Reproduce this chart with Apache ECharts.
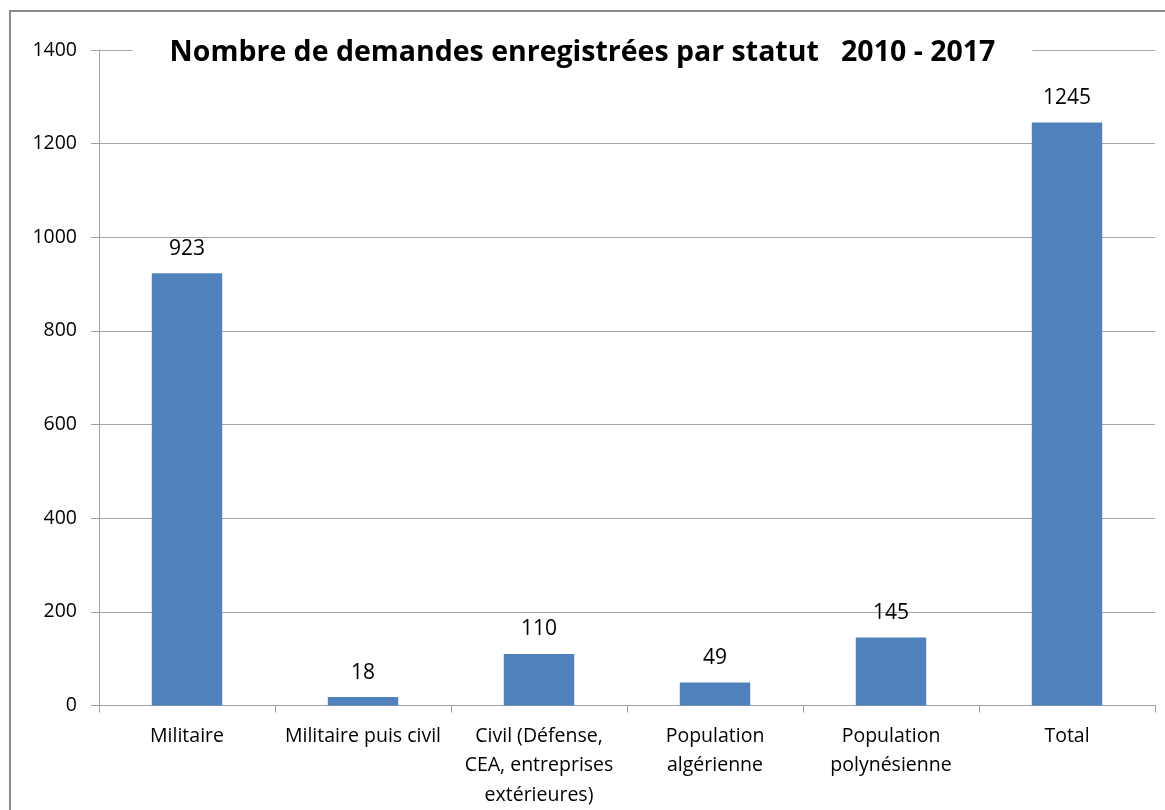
<!DOCTYPE html>
<html>
<head>
<meta charset="utf-8">
<script src="https://cdn.jsdelivr.net/npm/echarts@6/dist/echarts.min.js"></script>
<style>
  html, body { margin: 0; padding: 0; background: #fff; }
  #chart { width: 1165px; height: 810px; }
</style>
</head>
<body>
<div id="chart"></div>
<script>
// data
var categories = ['Militaire', 'Militaire puis civil', 'Civil (Défense,\nCEA, entreprises\nextérieures)', 'Population\nalgérienne', 'Population\npolynésienne', 'Total'];
var values = [923, 18, 110, 49, 145, 1245];
var yTicks = [0, 200, 400, 600, 800, 1000, 1200, 1400];

var chart = echarts.init(document.getElementById('chart'));
var font = "'Open Sans', sans-serif";

var option = {
  animation: false,
  graphic: [{
    type: 'rect',
    shape: { x: 10, y: 11, width: 1200, height: 900 },
    style: { fill: 'none', stroke: '#8a8a8a', lineWidth: 2 },
    z: 0
  }],
  title: {
    text: 'Nombre de demandes enregistrées par statut   2010 - 2017',
    left: 'center',
    top: 37,
    padding: [1, 37],
    backgroundColor: '#fff',
    textStyle: { fontFamily: font, fontSize: 28.5, fontWeight: 'bold', color: '#000' },
    z: 10
  },
  grid: { left: 99, right: 10, top: 50, bottom: 103 },
  xAxis: {
    type: 'category',
    data: categories,
    axisLine: { lineStyle: { color: '#a0a0a0', width: 1 } },
    axisTick: { show: true, length: 7, alignWithLabel: false, lineStyle: { color: '#a0a0a0' } },
    axisLabel: { color: '#000', fontFamily: font, fontSize: 19.5, margin: 16, lineHeight: 29.5, interval: 0 }
  },
  yAxis: {
    type: 'value',
    min: yTicks[0],
    max: yTicks[yTicks.length - 1],
    interval: 200,
    axisLine: { show: true, lineStyle: { color: '#a0a0a0', width: 1 } },
    axisTick: { show: true, length: 8, inside: false, lineStyle: { color: '#a0a0a0' } },
    axisLabel: { color: '#000', fontFamily: font, fontSize: 19.5, margin: 22, formatter: function (v) { return String(v); } },
    splitLine: { show: true, lineStyle: { color: '#a6a6a6', width: 1 } }
  },
  series: [{
    type: 'bar',
    data: values,
    barWidth: '40%',
    itemStyle: { color: '#4f81bd' },
    label: {
      show: true,
      position: 'top',
      distance: 14,
      color: '#000',
      fontFamily: font,
      fontSize: 21
    }
  }]
};

chart.setOption(option);
</script>
</body>
</html>
